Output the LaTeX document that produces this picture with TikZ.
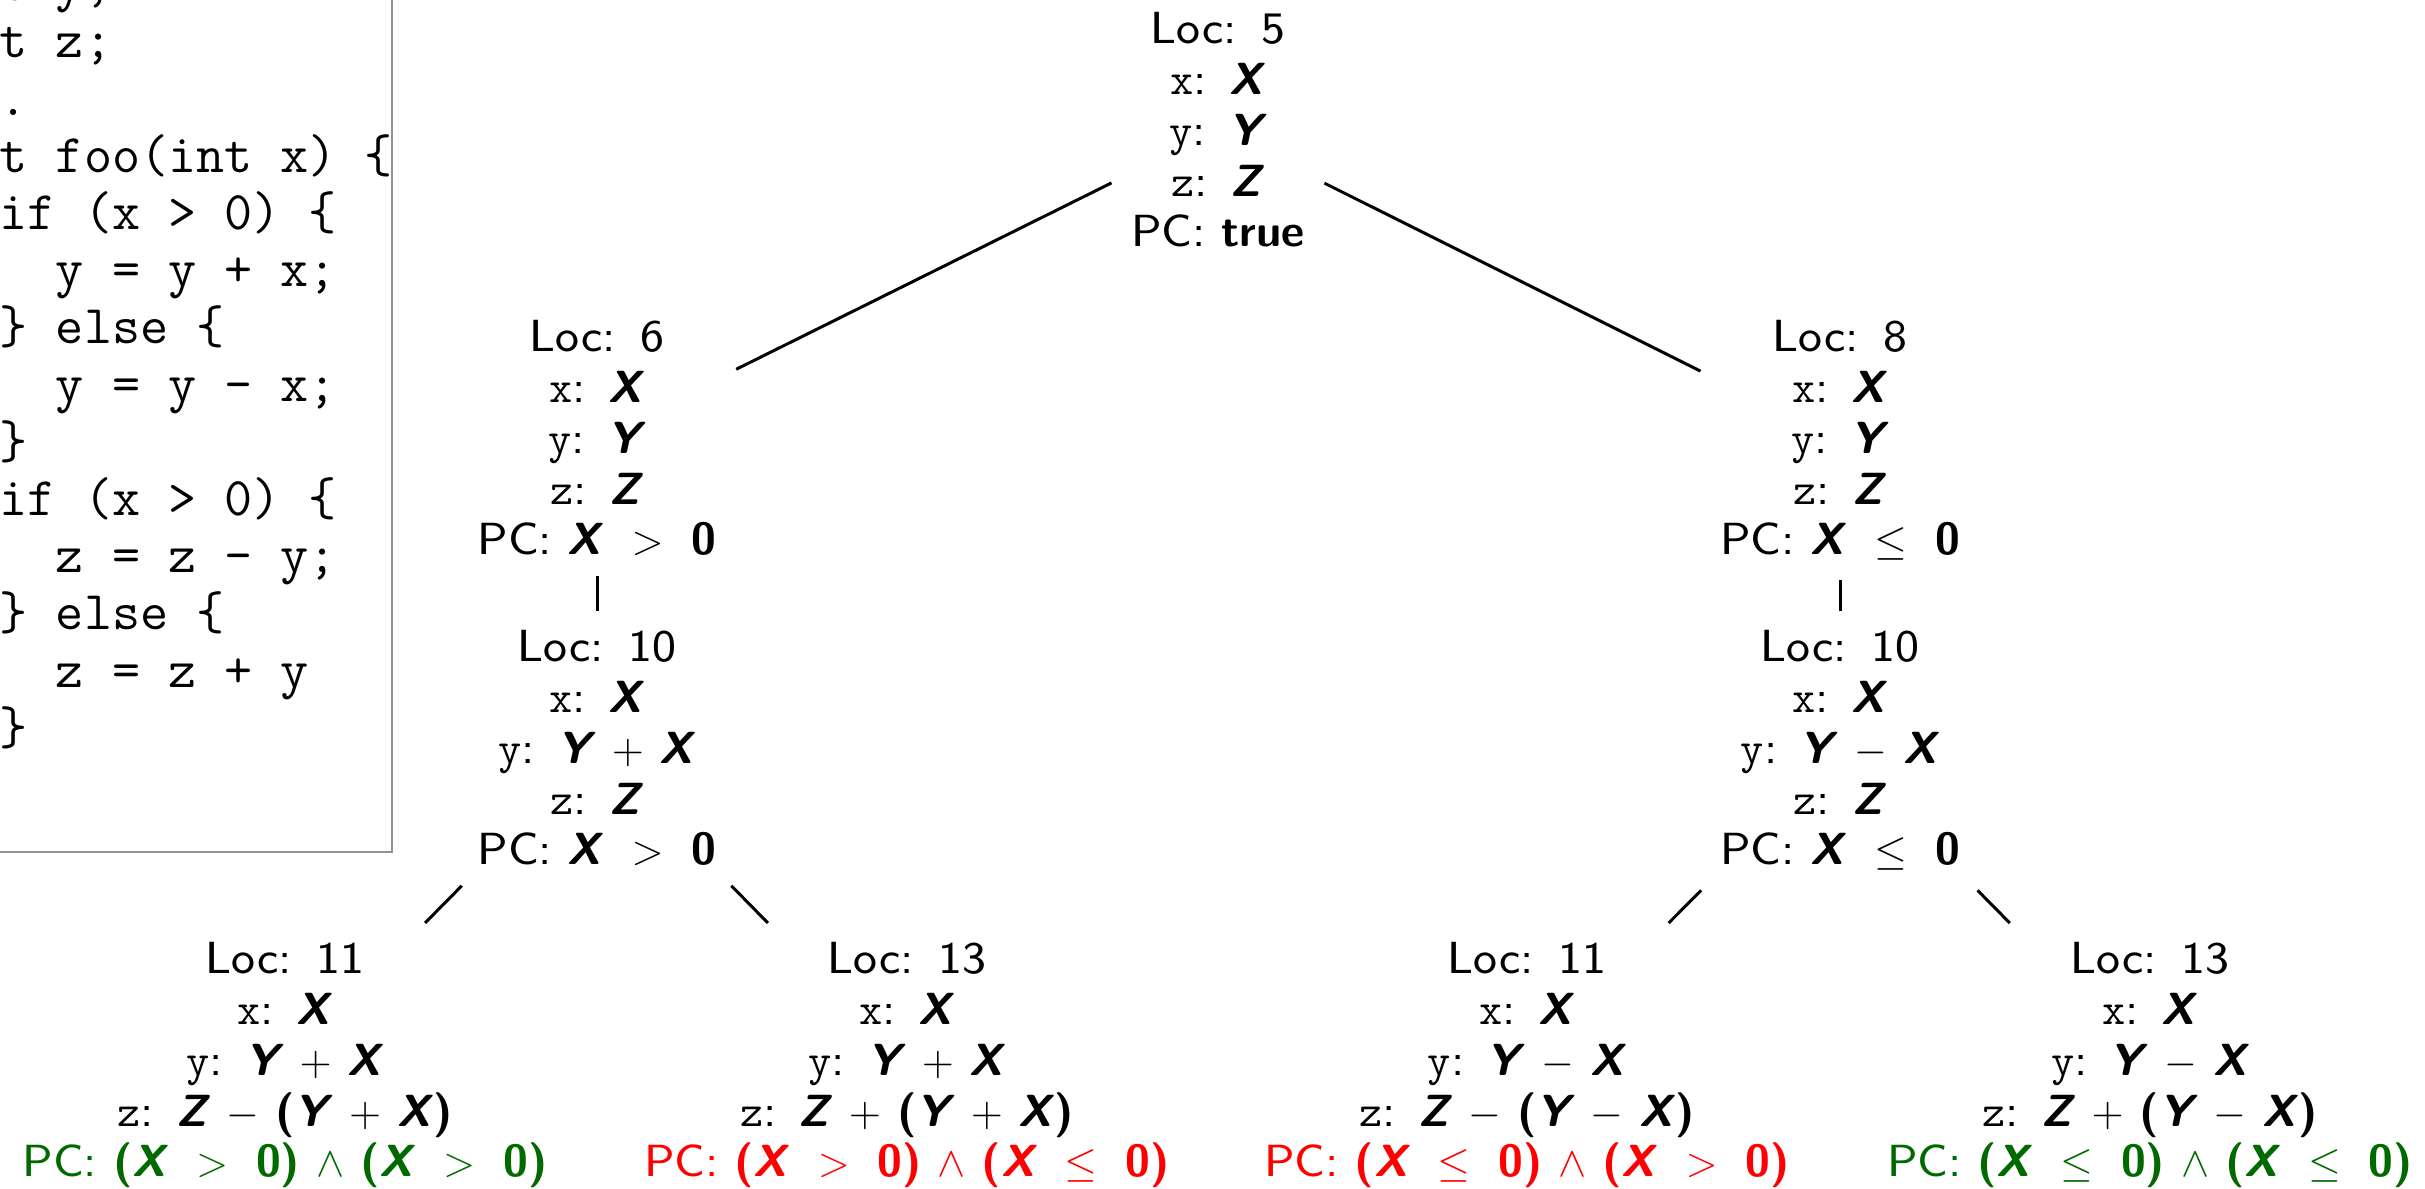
\documentclass[tikz,border=0pt]{standalone}
\usepackage{fontspec}
\usepackage{amsmath}
\usepackage{tikz}
\newfontfamily\locfont{lmsans8-regular.otf}[BoldFont=lmsans10-bold.otf, BoldItalicFont=lmsans10-boldoblique.otf]
\definecolor{pcgreen}{RGB}{0,105,0}
\definecolor{pcred}{RGB}{255,0,0}
\newcommand{\sv}[1]{\textbf{\textit{#1}}}
\newcommand{\bp}[1]{\textbf{#1}}
\newcommand{\loc}[1]{Loc:\hspace{0.55em}#1}
\newcommand{\vr}[1]{\texttt{#1}:\hspace{0.5em}}
\newcommand{\rel}[1]{\hspace{0.62em}$#1$\hspace{0.62em}}
\newcommand{\codetab}{\phantom{xx}}

\begin{document}
\begin{tikzpicture}[x=0.01cm, y=-0.01cm,
    locnode/.style = {align=center, inner sep=0.19cm, anchor=north, font=\fontsize{12.8}{14.43}\selectfont\locfont},
    branch/.style = {line width=0.85pt},
    codeline/.style = {anchor=base west, inner sep=0pt, font=\fontsize{15.5}{16}\selectfont\ttfamily\frenchspacing},
    codebox/.style = {draw=gray!85, line width=0.75pt}]
                \useasboundingbox (0,0) rectangle (2425,1189);
                \clip (0,0) rectangle (2425,1189);

                \draw[codebox] (-100,-100) rectangle (392,852);
                \foreach \line [count=\k from -1] in {int y;, int z;, {.}{.}{.}, int foo(int x) \{, \codetab if (x > 0) \{, \codetab\codetab y = y + x;, \codetab\} else \{, \codetab\codetab y = y - x;, \codetab\}, \codetab if (x > 0) \{, \codetab\codetab z = z - y;, \codetab\} else \{, \codetab\codetab z = z + y, \codetab\}}
                    \node[codeline] (code\k) at (-57, {58+57.2*\k}) {\line};

                \node[locnode] at (1218, -7) (n5) {\loc{5}\\ \vr{x}\sv{X}\\ \vr{y}\sv{Y}\\ \vr{z}\sv{Z}\\ PC: \bp{true}};
                \node[locnode] at (597, 301) (n6) {\loc{6}\\ \vr{x}\sv{X}\\ \vr{y}\sv{Y}\\ \vr{z}\sv{Z}\\ PC: \sv{X}\rel{>}\bp{0}};
                \node[locnode] at (1840, 301) (n8) {\loc{8}\\ \vr{x}\sv{X}\\ \vr{y}\sv{Y}\\ \vr{z}\sv{Z}\\ PC: \sv{X}\rel{\leq}\bp{0}};
                \node[locnode] at (597, 611) (n10a) {\loc{10}\\ \vr{x}\sv{X}\\ \vr{y}\sv{Y} $+$ \sv{X}\\ \vr{z}\sv{Z}\\ PC: \sv{X}\rel{>}\bp{0}};
                \node[locnode] at (1840, 611) (n10b) {\loc{10}\\ \vr{x}\sv{X}\\ \vr{y}\sv{Y} $-$ \sv{X}\\ \vr{z}\sv{Z}\\ PC: \sv{X}\rel{\leq}\bp{0}};

                \node[locnode] at (285, 923) (n11a) {\loc{11}\\ \vr{x}\sv{X}\\ \vr{y}\sv{Y} $+$ \sv{X}\\ \vr{z}\sv{Z} $-$ \bp{(}\sv{Y} $+$ \sv{X}\bp{)}\\ \textcolor{pcgreen}{PC: \bp{(}\sv{X}\rel{>}\bp{0)} $\wedge$ \bp{(}\sv{X}\rel{>}\bp{0)}}};
                \node[locnode] at (907, 923) (n13a) {\loc{13}\\ \vr{x}\sv{X}\\ \vr{y}\sv{Y} $+$ \sv{X}\\ \vr{z}\sv{Z} $+$ \bp{(}\sv{Y} $+$ \sv{X}\bp{)}\\ \textcolor{pcred}{PC: \bp{(}\sv{X}\rel{>}\bp{0)} $\wedge$ \bp{(}\sv{X}\rel{\leq}\bp{0)}}};
                \node[locnode] at (1527, 923) (n11b) {\loc{11}\\ \vr{x}\sv{X}\\ \vr{y}\sv{Y} $-$ \sv{X}\\ \vr{z}\sv{Z} $-$ \bp{(}\sv{Y} $-$ \sv{X}\bp{)}\\ \textcolor{pcred}{PC: \bp{(}\sv{X}\rel{\leq}\bp{0)} $\wedge$ \bp{(}\sv{X}\rel{>}\bp{0)}}};
                \node[locnode] at (2150, 923) (n13b) {\loc{13}\\ \vr{x}\sv{X}\\ \vr{y}\sv{Y} $-$ \sv{X}\\ \vr{z}\sv{Z} $+$ \bp{(}\sv{Y} $-$ \sv{X}\bp{)}\\ \textcolor{pcgreen}{PC: \bp{(}\sv{X}\rel{\leq}\bp{0)} $\wedge$ \bp{(}\sv{X}\rel{\leq}\bp{0)}}};

                \foreach \from/\to in {n5/n6, n5/n8, n6/n10a, n8/n10b, n10a/n11a, n10a/n13a, n10b/n11b, n10b/n13b}
                    \draw[branch] (\from) -- (\to);
            \end{tikzpicture}
\end{document}
